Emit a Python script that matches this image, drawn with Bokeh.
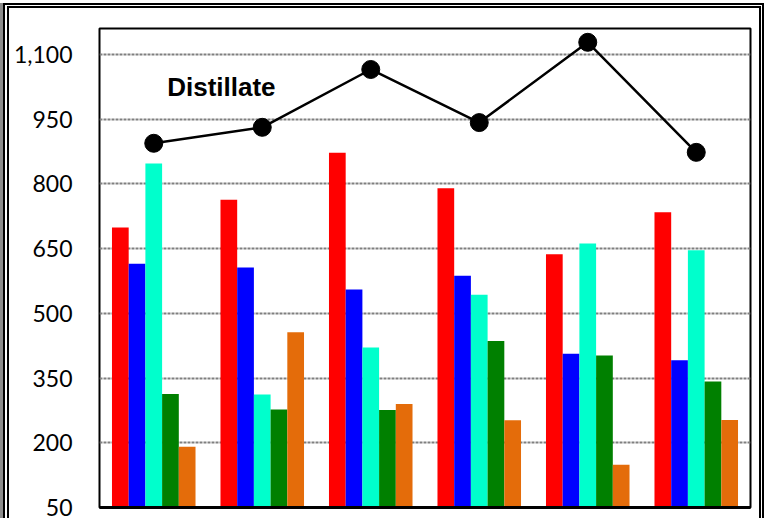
from bokeh.plotting import figure
from bokeh.models import Range1d, FixedTicker, NumeralTickFormatter, Label, ColumnDataSource
from bokeh.embed import file_html
from bokeh.resources import INLINE

# ---- data ----
categories = ["1", "2", "3", "4", "5", "6"]
series_red = [699, 763, 872, 790, 637, 734]
series_blue = [615, 606, 555, 587, 406, 391]
series_aqua = [847, 312, 421, 543, 662, 646]
series_green = [313, 277, 276, 436, 402, 342]
series_orange = [191, 456, 290, 252, 149, 253]
distillate = [894, 931, 1065, 942, 1128, 873]
y_ticks = [50, 200, 350, 500, 650, 800, 950, 1100]

series = [series_red, series_blue, series_aqua, series_green, series_orange]
colors = ["#FF0000", "#0000FF", "#00FFCC", "#008000", "#E46C0A"]

xs = list(range(1, len(categories) + 1))

p = figure(width=750, height=510, frame_width=651, frame_height=479,
           min_border_left=90, min_border_right=9, min_border_top=20, min_border_bottom=11,
           x_range=Range1d(0.5, 6.5), y_range=Range1d(50, 1160),
           output_backend="svg", toolbar_location=None)
p.styles = {
    "margin-left": "3px",
    "margin-top": "3px",
    "border-left": "6px double black",
    "border-top": "5px double black",
    "border-right": "5px double black",
    "box-shadow": "-3px 0 0 0 #8C8C8C",
}
p.background_fill_color = "white"
p.border_fill_color = "white"
p.outline_line_color = "black"
p.outline_line_width = 2

bw = 0.154
for k, (vals, c) in enumerate(zip(series, colors)):
    off = (k - 2) * bw
    src = ColumnDataSource(dict(x=[x + off for x in xs], top=vals))
    p.vbar(x="x", top="top", bottom=0, width=bw, source=src, fill_color=c, line_color=None)

lsrc = ColumnDataSource(dict(x=xs, y=distillate))
p.line("x", "y", source=lsrc, line_color="black", line_width=2.5)
p.scatter("x", "y", source=lsrc, size=18, fill_color="black", line_color="black")

p.add_layout(Label(x=1.124, y=1025, text="Distillate", text_font="Liberation Sans",
                   text_font_style="bold", text_font_size="26px", text_color="black",
                   text_baseline="alphabetic", text_align="left"))

# y axis
p.yaxis.ticker = FixedTicker(ticks=y_ticks)
p.yaxis.formatter = NumeralTickFormatter(format="0,0")
p.yaxis.major_tick_out = 0
p.yaxis.major_tick_in = 0
p.yaxis.minor_tick_line_color = None
p.yaxis.major_label_standoff = 27
p.yaxis.major_label_text_font = "Lato"
p.yaxis.major_label_text_font_size = "23px"
p.yaxis.major_label_text_color = "black"
p.yaxis.axis_line_color = None

# x axis: thick line only (category labels are outside the visible area)
p.xaxis.ticker = FixedTicker(ticks=[])
p.xaxis.major_tick_line_color = None
p.xaxis.minor_tick_line_color = None
p.xaxis.major_label_standoff = 0
p.xaxis.axis_line_color = "black"
p.xaxis.axis_line_width = 3

p.xgrid.grid_line_color = None
p.ygrid.ticker = FixedTicker(ticks=y_ticks[1:])
p.ygrid.grid_line_color = "#7F7F7F"
p.ygrid.grid_line_width = 2
p.ygrid.grid_line_dash = "3 1"

open("out.html", "w").write(file_html(p, INLINE))
